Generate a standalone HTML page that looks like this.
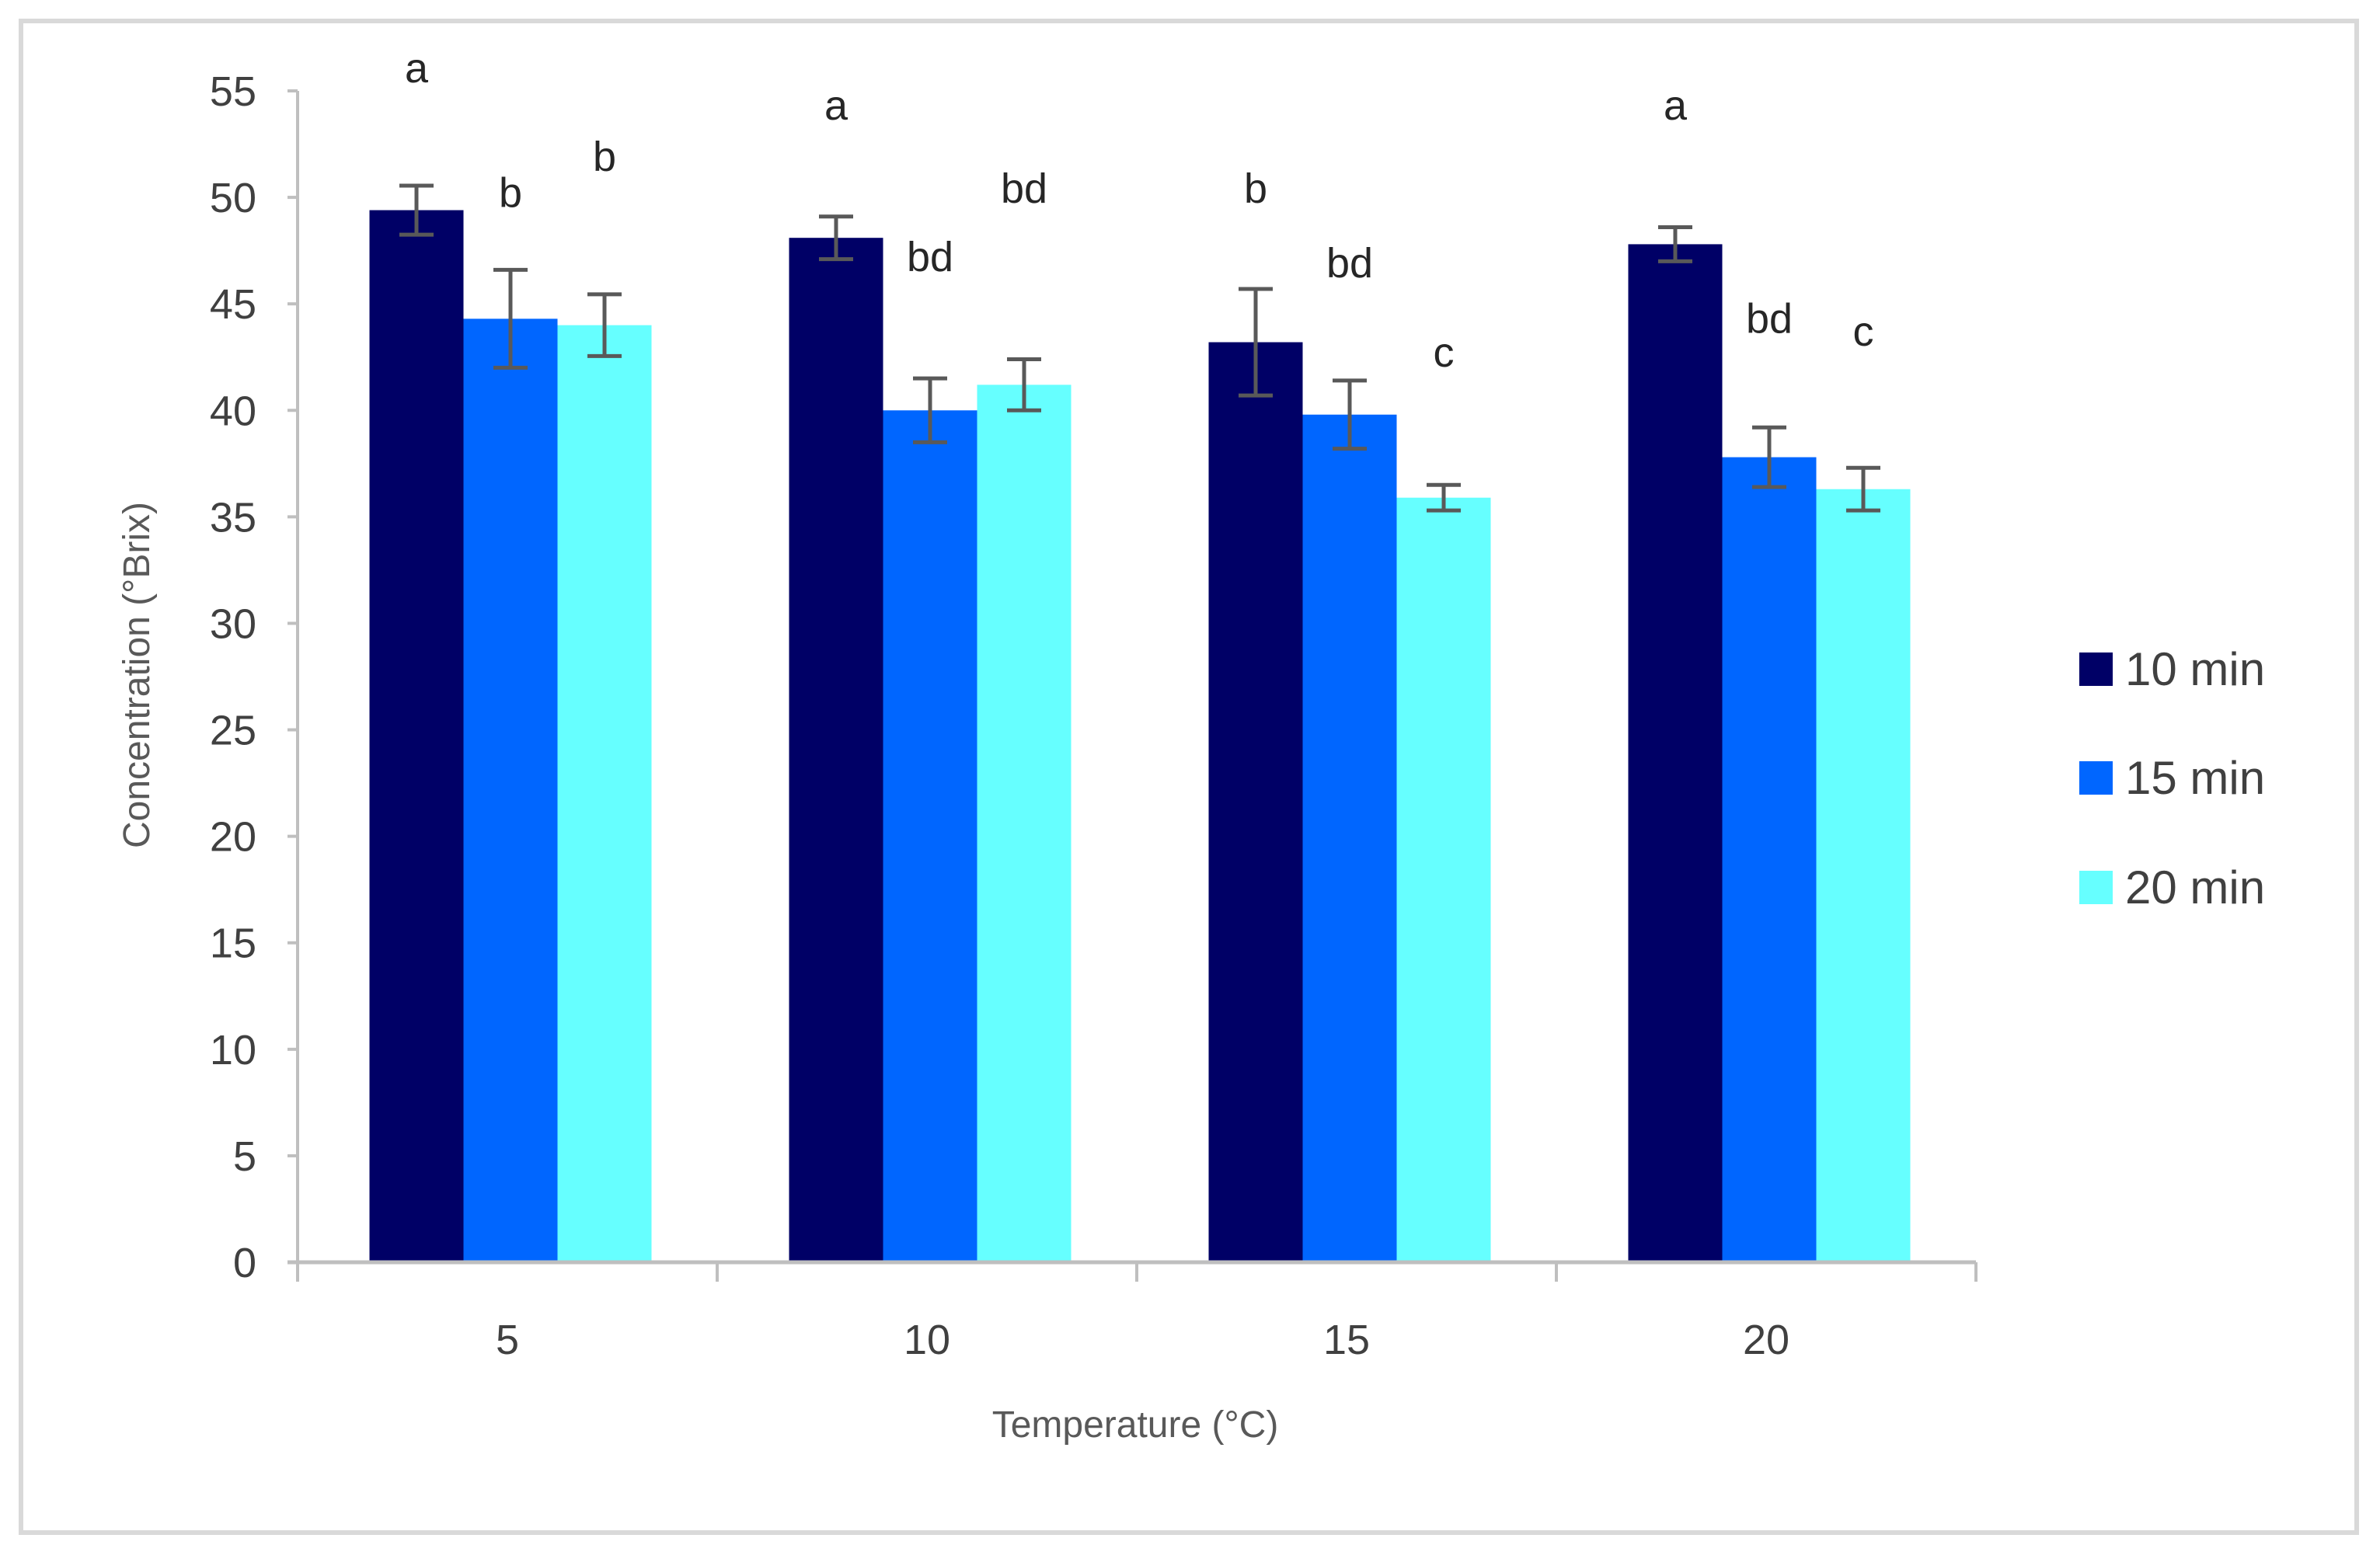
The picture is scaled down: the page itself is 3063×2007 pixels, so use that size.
<!DOCTYPE html>
<html><head><meta charset="utf-8"><style>
html,body{margin:0;padding:0;background:#fff;}
svg{display:block;font-family:"Liberation Sans",sans-serif;}
</style></head><body>
<svg id="chart" width="3063" height="2007" viewBox="0 0 3063 2007">
<rect x="27" y="27" width="3006" height="1946" fill="#fff" stroke="#d9d9d9" stroke-width="6"/>
<g id="g"></g>
</svg>
<script>
const categories = ["5","10","15","20"];
const seriesNames = ["10 min","15 min","20 min"];
const colors = ["#000066","#0066ff","#66ffff"];
const values10 = [49.4,48.1,43.2,47.8];
const values15 = [44.3,40.0,39.8,37.8];
const values20 = [44.0,41.2,35.9,36.3];
const err10 = [1.15,1.0,2.5,0.8];
const err15 = [2.3,1.5,1.6,1.4];
const err20 = [1.45,1.2,0.6,1.0];
const letters10 = ["a","a","b","a"];
const letters15 = ["b","bd","bd","bd"];
const letters20 = ["b","bd","c","c"];
const letterY10 = [56.05,54.3,50.4,54.3];
const letterY15 = [50.2,47.2,46.9,44.3];
const letterY20 = [51.9,50.4,42.7,43.7];
const yTicks = [0,5,10,15,20,25,30,35,40,45,50,55];

const NS="http://www.w3.org/2000/svg";
const g=document.getElementById('g');
const x0=383,x1=2543,y0=1625,yTop=117,yMax=55;
const catW=(x1-x0)/categories.length, barW=121, groupOff=(catW-3*barW)/2+4;
function yS(v){return y0-(v/yMax)*(y0-yTop);}
function xBar(c,s){return x0+c*catW+groupOff+s*barW;}
function mk(tag,attrs,text){const e=document.createElementNS(NS,tag);for(const k in attrs)e.setAttribute(k,attrs[k]);if(text!==undefined)e.textContent=text;g.appendChild(e);return e;}

let ax=mk('line',{x1:x0,y1:yTop,x2:x0,y2:y0,stroke:'#bfbfbf','stroke-width':4});


yTicks.forEach(t=>{
  const tk=mk('line',{x1:x0-13,y1:yS(t),x2:x0,y2:yS(t),stroke:'#bfbfbf','stroke-width':4});
  
  
  const lb=mk('text',{x:330,y:yS(t)+19,'text-anchor':'end','font-size':54,fill:'#404040'},String(t));
  
  
});
const yt=mk('text',{x:0,y:0,transform:'translate(192,869) rotate(-90)','text-anchor':'middle','font-size':48,fill:'#595959'},'Concentration (°Brix)');



const vals=[values10,values15,values20], errs=[err10,err15,err20], lets=[letters10,letters15,letters20], letY=[letterY10,letterY15,letterY20];
categories.forEach((c,ci)=>{
  for(let s=0;s<3;s++){
    const v=vals[s][ci], bx=xBar(ci,s);
    const r=mk('rect',{x:bx,y:yS(v),width:barW,height:y0-yS(v),fill:colors[s]});
    
    
    const cx=bx+barW/2, e=errs[s][ci];
    const eb=mk('path',{d:`M${cx},${yS(v+e)}V${yS(v-e)}M${cx-22},${yS(v+e)}H${cx+22}M${cx-22},${yS(v-e)}H${cx+22}`,stroke:'#595959','stroke-width':5,fill:'none'});
    
    
    const lt=mk('text',{x:cx,y:yS(letY[s][ci])+18,'text-anchor':'middle','font-size':54,fill:'#262626'},lets[s][ci]);
    
    
  }
  const cl=mk('text',{x:x0+(ci+0.5)*catW,y:1743,'text-anchor':'middle','font-size':54,fill:'#404040'},c);
  
  
});
for(let i=0;i<=categories.length;i++){
  const t=mk('line',{x1:x0+i*catW,y1:y0,x2:x0+i*catW,y2:1650,stroke:'#bfbfbf','stroke-width':4});
  
  
}
const xa=mk('line',{x1:x0-13,y1:y0,x2:x1,y2:y0,stroke:'#bfbfbf','stroke-width':5});


const xt=mk('text',{x:1461,y:1850,'text-anchor':'middle','font-size':48,fill:'#595959'},'Temperature (°C)');



const legY=[861,1001,1142];
seriesNames.forEach((n,i)=>{
  const sq=mk('rect',{x:2676,y:legY[i]-21,width:43,height:43,fill:colors[i]});
  
  
  const tx=mk('text',{x:2735,y:legY[i]+21,'font-size':60,fill:'#404040'},n);
  
  
});
</script>
</body></html>
